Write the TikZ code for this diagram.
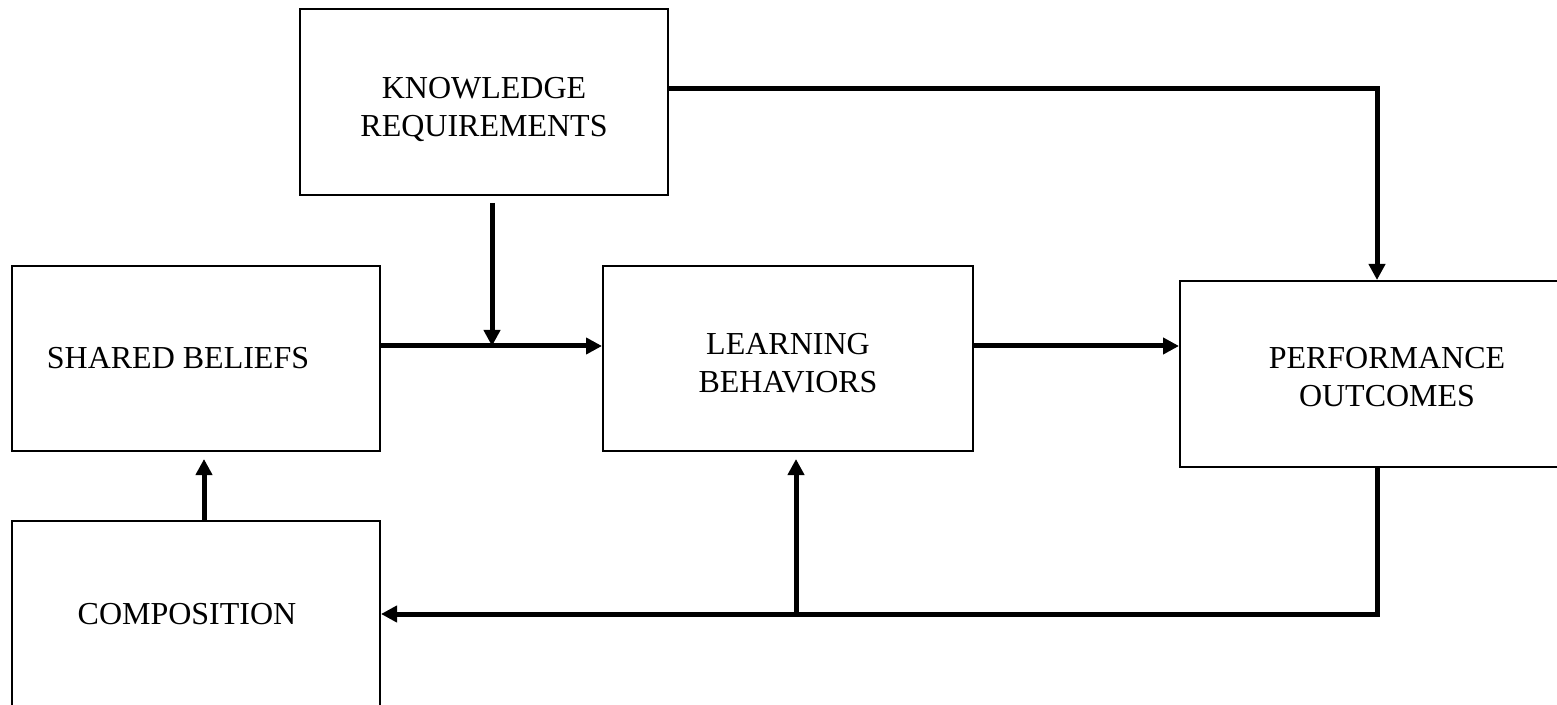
\documentclass[tikz,border=0pt]{standalone}
\usepackage{fontspec}
\setmainfont{Liberation Serif}
\usetikzlibrary{arrows.meta,calc}
\tikzset{
  boxnode/.style={draw=black, line width=1pt, rectangle, inner sep=0pt},
  txt/.style={align=center, inner sep=0pt, font=\fontsize{16}{19}\selectfont},
  arr/.style={line width=2.5pt, -{Triangle[length=8pt,width=8pt]}}
}
\begin{document}
\begin{tikzpicture}[x=0.5pt,y=-0.5pt]
\useasboundingbox (0,0) rectangle (1557,705);
\clip (0,0) rectangle (1557,705);
\fill[white] (0,0) rectangle (1557,705);
% boxes
\node[boxnode, minimum width=184pt, minimum height=93pt] (know) at (484,102) {};
\node[boxnode, minimum width=184pt, minimum height=92.5pt] (shared) at (196,358.5) {};
\node[boxnode, minimum width=185pt, minimum height=92.5pt] (learn) at (788,358.5) {};
\node[boxnode, minimum width=207pt, minimum height=93pt] (perf) at (1387,374) {};
\node[boxnode, minimum width=184pt, minimum height=93pt] (comp) at (196,614) {};
% texts
\node[txt] (knowt) at ([yshift=-4pt]know.center) {KNOWLEDGE\\REQUIREMENTS};
\node[txt] (sharedt) at ([xshift=-9pt]shared.center) {SHARED BELIEFS};
\node[txt] (learnt) at ([yshift=-2.25pt]learn.center) {LEARNING\\BEHAVIORS};
\node[txt] (perft) at ([yshift=-1.75pt]perf.center) {PERFORMANCE\\OUTCOMES};
\node[txt] (compt) at ([xshift=-4.5pt]comp.center) {COMPOSITION};
\coordinate (j1) at (492,346);
\coordinate (j2) at (796,614);
% knowledge -> performance
\draw[arr] ([yshift=6.5pt]know.east) -| ([xshift=-5pt]perf.north);
% knowledge -> junction
\draw[arr] ([xshift=4pt,yshift=-3.5pt]know.south) -- (j1);
% shared -> learning
\draw[arr] ([yshift=6.25pt]shared.east) -- ([yshift=6.25pt]learn.west);
% learning -> performance
\draw[arr] ([yshift=6.25pt]learn.east) -- ([yshift=6.25pt]learn.east -| perf.west);
% composition -> shared
\draw[arr, shorten >=3.5pt] ([xshift=4pt]comp.north) -- ([xshift=4pt]shared.south);
% performance -> composition
\draw[arr] ([xshift=-5pt]perf.south) |- (comp.east);
% feedback -> learning
\draw[arr, shorten >=3.5pt] (j2) -- (j2 |- learn.south);
\end{tikzpicture}
\end{document}
